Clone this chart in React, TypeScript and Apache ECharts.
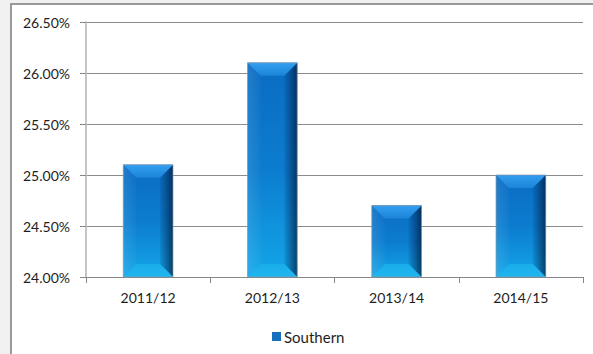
import React, { useEffect, useRef } from "react";
import * as echarts from "echarts";

const categories: string[] = ["2011/12", "2012/13", "2013/14", "2014/15"];
const southern: number[] = [25.1, 26.1, 24.7, 25.0];
const seriesName = "Southern";
const yMin = 24;
const yMax = 26.5;
const yStep = 0.5;

const FONT = "Lato";
const TEXT = "#1e1e1e";

function renderItem(params: any, api: any) {
  const idx = api.value(0);
  const val = api.value(1);
  const pTop = api.coord([idx, val]);
  const pBot = api.coord([idx, yMin]);
  const band = api.size([1, 0])[0];
  const w = band * 0.4;
  const x0 = pTop[0] - w / 2;
  const x1 = pTop[0] + w / 2;
  const y0 = pTop[1];
  const y1 = pBot[1];
  const b = Math.min(13, (y1 - y0) / 2, w / 2);
  const LG = echarts.graphic.LinearGradient;
  return {
    type: "group",
    children: [
      {
        type: "rect",
        shape: { x: x0, y: y0, width: w, height: y1 - y0 },
        style: {
          fill: new LG(0, 0, 0, 1, [
            { offset: 0, color: "#0a6cc2" },
            { offset: 0.5, color: "#0c7ccf" },
            { offset: 1, color: "#14a6e8" },
          ]),
        },
      },
      {
        type: "polygon",
        shape: { points: [[x0, y0], [x0 + b, y0 + b], [x0 + b, y1 - b], [x0, y1]] },
        style: {
          fill: new LG(0, 0, 1, 0, [
            { offset: 0, color: "rgba(255,255,255,0.10)" },
            { offset: 1, color: "rgba(255,255,255,0.02)" },
          ]),
        },
      },
      {
        type: "polygon",
        shape: { points: [[x1, y0], [x1 - b, y0 + b], [x1 - b, y1 - b], [x1, y1]] },
        style: {
          fill: new LG(0, 0, 1, 0, [
            { offset: 0, color: "rgba(0,40,90,0.1)" },
            { offset: 1, color: "rgba(0,25,55,0.72)" },
          ]),
        },
      },
      {
        type: "polygon",
        shape: { points: [[x0, y0], [x1, y0], [x1 - b, y0 + b], [x0 + b, y0 + b]] },
        style: {
          fill: new LG(0, 0, 0, 1, [
            { offset: 0, color: "#349ef0" },
            { offset: 1, color: "#1a84d6" },
          ]),
        },
      },
      {
        type: "polygon",
        shape: { points: [[x0, y1], [x1, y1], [x1 - b, y1 - b], [x0 + b, y1 - b]] },
        style: {
          fill: new LG(0, 0, 0, 1, [
            { offset: 0, color: "#18acea" },
            { offset: 1, color: "#22b6f0" },
          ]),
        },
      },
      {
        type: "rect",
        shape: { x: x0, y: y0, width: w, height: y1 - y0 },
        style: { fill: "none", stroke: "rgba(130,150,170,0.7)", lineWidth: 1 },
      },
    ],
  };
}

export default function App() {
  const ref = useRef<HTMLDivElement>(null);
  useEffect(() => {
    const chart = echarts.init(ref.current!, null, { renderer: "svg" });
    chart.setOption({
      animation: false,
      grid: { left: 86, right: 10, top: 22, bottom: 77 },
      xAxis: {
        type: "category",
        data: categories,
        axisLine: { lineStyle: { color: "#868686", width: 1 } },
        axisTick: { show: true, length: 6, lineStyle: { color: "#868686" } },
        axisLabel: { color: TEXT, fontFamily: FONT, fontSize: 14, margin: 13 },
      },
      yAxis: {
        type: "value",
        min: yMin,
        max: yMax,
        interval: yStep,
        axisLine: { show: true, lineStyle: { color: "#c4c4c4", width: 2 } },
        axisTick: { show: true, length: 6, lineStyle: { color: "#868686" } },
        axisLabel: {
          color: TEXT,
          fontFamily: FONT,
          fontSize: 14,
          margin: 16,
          formatter: (v: number) => v.toFixed(2) + "%",
        },
        splitLine: { show: true, lineStyle: { color: "#8c8c8c", width: 1 } },
      },
      legend: {
        left: 267,
        top: 324,
        itemWidth: 9,
        itemHeight: 9,
        itemGap: 10,
        icon: "rect",
        textStyle: { color: TEXT, fontFamily: FONT, fontSize: 15, padding: [0, 0, 0, -2] },
        data: [seriesName],
      },
      series: [
        {
          type: "custom",
          name: seriesName,
          data: southern.map((v, i) => [i, v]),
          encode: { x: 0, y: 1 },
          renderItem,
          itemStyle: { color: "#1570bd" },
        },
      ],
    });
    return () => chart.dispose();
  }, []);

  return (
    <div style={{ position: "fixed", left: 0, top: 0, width: 593, height: 354, background: "#f0f0f0", overflow: "hidden" }}>
      <div
        style={{
          position: "absolute",
          left: 10,
          top: 3,
          width: 620,
          height: 380,
          background: "#ffffff",
          borderLeft: "2px solid #9a9a9a",
          borderTop: "2px solid #9a9a9a",
        }}
      />
      <div ref={ref} style={{ position: "absolute", left: 0, top: 0, width: 593, height: 354 }} />
    </div>
  );
}
